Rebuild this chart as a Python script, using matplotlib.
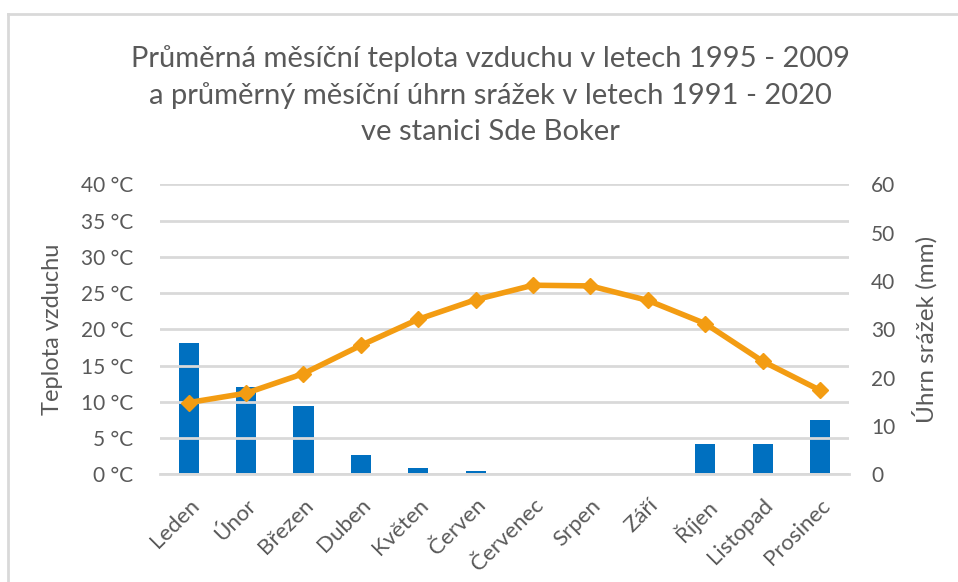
import matplotlib
matplotlib.use("Agg")
import matplotlib.pyplot as plt
from matplotlib.lines import Line2D
import numpy as np

months = ["Leden", "Únor", "Březen", "Duben", "Květen", "Červen",
          "Červenec", "Srpen", "Září", "Říjen", "Listopad", "Prosinec"]
temperature = [9.9, 11.2, 13.9, 17.8, 21.4, 24.1, 26.1, 26.0, 24.0, 20.8, 15.6, 11.6]
precipitation = [27.2, 18.1, 14.2, 4.1, 1.4, 0.6, 0.0, 0.0, 0.0, 6.2, 6.2, 11.3]
temp_ticks = [0, 5, 10, 15, 20, 25, 30, 35, 40]
prec_ticks = [0, 10, 20, 30, 40, 50, 60]

title = ("Průměrná měsíční teplota vzduchu v letech 1995 - 2009\n"
         "a průměrný měsíční úhrn srážek v letech 1991 - 2020\n"
         "ve stanici Sde Boker")

plt.rcParams['font.family'] = ['Lato', 'DejaVu Sans']
text_color = "#595959"
grid_color = "#d9d9d9"
bar_color = "#0070c0"
line_color = "#f39c12"

fig = plt.figure(figsize=(9.58, 5.82), dpi=100)
ax = fig.add_axes([0.167, 0.185, 0.719, 0.498])
ax2 = ax.twinx()

x = np.arange(len(months))
# Bars on the secondary (right) axis
ax2.bar(x, precipitation, width=0.35, color=bar_color, zorder=2)
ax2.set_ylim(0, 60)
ax2.set_yticks(prec_ticks)
ax2.set_yticklabels([str(t) for t in prec_ticks])

ax.set_ylim(0, 40)
ax.set_yticks(temp_ticks)
ax.set_yticklabels([f"{t} °C" for t in temp_ticks])
ax.set_xlim(-0.5, len(months) - 0.5)
ax.yaxis.grid(True, color=grid_color, linewidth=2)
ax.set_axisbelow(True)

ax.set_zorder(ax2.get_zorder() + 1)
ax.patch.set_visible(False)
ax.plot(x, temperature, color=line_color, linewidth=4, marker='D', markersize=8,
        zorder=3, solid_joinstyle='round')

ax.set_xticks(x)
ax.set_xticklabels(months, rotation=45, ha='right', rotation_mode='anchor',
                   fontsize=16, color=text_color)
for a in (ax, ax2):
    for s in a.spines.values():
        s.set_visible(False)
    a.tick_params(length=0)
ax.spines['bottom'].set_visible(True)
ax.spines['bottom'].set_color(grid_color)
ax.spines['bottom'].set_linewidth(2)
ax.tick_params(axis='y', labelsize=15, labelcolor=text_color, pad=19)
ax.tick_params(axis='x', pad=15)
ax2.tick_params(axis='y', labelsize=15, labelcolor=text_color, pad=16)

ax.set_ylabel("Teplota vzduchu", fontsize=17, color=text_color, labelpad=13)
ax2.set_ylabel("Úhrn srážek (mm)", fontsize=17.5, color=text_color, labelpad=12)

fig.text(0.5115, 0.922, title, ha='center', va='top', fontsize=21,
         color=text_color, linespacing=1.45)

# chart-area border (top and left visible)
fig.add_artist(Line2D([0.0085, 1.0], [0.976, 0.976], transform=fig.transFigure,
                      color=grid_color, linewidth=2))
fig.add_artist(Line2D([0.0085, 0.0085], [0.0, 0.976], transform=fig.transFigure,
                      color=grid_color, linewidth=2))

fig.savefig("out.png", dpi=100, facecolor='white')
